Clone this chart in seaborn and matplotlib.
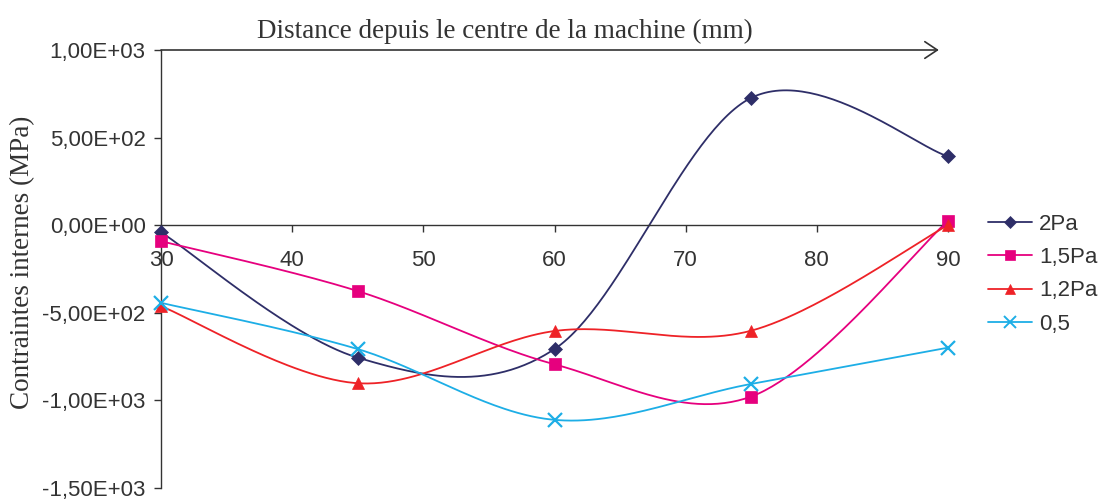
import numpy as np
import matplotlib
matplotlib.use("Agg")
import matplotlib.pyplot as plt
from matplotlib.lines import Line2D
import seaborn as sns

# Distance from the machine centre (mm)
distance = [30, 45, 60, 75, 90]

# Internal stresses (MPa) for each pressure
s_2pa = [-40, -756, -707, 727, 393]
s_15pa = [-91, -376, -794, -978, 25]
s_12pa = [-462, -902, -604, -602, 0]
s_05 = [-443, -707, -1111, -906, -699]

series_labels = ["2Pa", "1,5Pa", "1,2Pa", "0,5"]
series_values = [s_2pa, s_15pa, s_12pa, s_05]
series_colors = ["#2E2E68", "#E6007E", "#EE2227", "#1DAEE6"]
series_markers = ["D", "s", "^", "x"]
series_msize = [7.5, 8, 9, 10]

y_ticks = [1000, 500, 0, -500, -1000, -1500]
y_ticklabels = ["1,00E+03", "5,00E+02", "0,00E+00", "-5,00E+02", "-1,00E+03", "-1,50E+03"]
x_ticks = [30, 40, 50, 60, 70, 80, 90]


def smooth_curve(xs, ys, n=60):
    """Bezier smoothing through every point (spreadsheet-style smoothed line)."""
    p = np.column_stack([xs, ys]).astype(float)
    pts = np.vstack([p[0], p, p[-1]])
    t = np.linspace(0, 1, n)[:, None]
    out = []
    for i in range(1, len(pts) - 2):
        p0, p1, p2, p3 = pts[i - 1], pts[i], pts[i + 1], pts[i + 2]
        c1 = p1 + (p2 - p0) / 6.0
        c2 = p2 - (p3 - p1) / 6.0
        seg = ((1 - t) ** 3) * p1 + 3 * ((1 - t) ** 2) * t * c1 + 3 * (1 - t) * t ** 2 * c2 + t ** 3 * p2
        out.append(seg if i == 1 else seg[1:])
    c = np.vstack(out)
    return c[:, 0], c[:, 1]


sns.set_theme(style="white")
plt.rcParams["font.family"] = ["Liberation Sans", "DejaVu Sans"]

fig = plt.figure(figsize=(11.02, 5.0), dpi=100)
ax = fig.add_axes([161 / 1102, 1 - 488 / 500, (948 - 161) / 1102, (488 - 50) / 500])

ink = "#333333"
handles = []
for lab, vals, col, mk, ms in zip(series_labels, series_values, series_colors,
                                  series_markers, series_msize):
    cx, cy = smooth_curve(distance, vals)
    sns.lineplot(x=cx, y=cy, ax=ax, color=col, linewidth=1.3, sort=False,
                 estimator=None, legend=False)
    ax.plot(distance, vals, linestyle="none", marker=mk, markersize=ms,
            color=col, markeredgecolor=col, markeredgewidth=1.6 if mk == "x" else 0.5,
            clip_on=False, zorder=4)
    handles.append(Line2D([0], [0], color=col, linewidth=1.3, marker=mk,
                          markersize=ms * 0.85, markeredgecolor=col,
                          markeredgewidth=1.4 if mk == "x" else 0.5))

ax.set_xlim(30, 90)
ax.set_ylim(-1500, 1000)
ax.set_xticks(x_ticks)
ax.set_xticklabels([str(v) for v in x_ticks])
ax.set_yticks(y_ticks)
ax.set_yticklabels(y_ticklabels)

for side in ("top", "right"):
    ax.spines[side].set_visible(False)
ax.spines["bottom"].set_position(("data", 0))
for side in ("left", "bottom"):
    ax.spines[side].set_color(ink)
    ax.spines[side].set_linewidth(1.0)
ax.tick_params(axis="x", which="both", direction="out", length=5, width=1.0,
               color=ink, pad=13, labelsize=16, labelcolor=ink, bottom=True)
ax.tick_params(axis="y", which="both", direction="out", length=5, width=1.0,
               color=ink, pad=6, labelsize=16, labelcolor=ink, left=True)
ax.grid(False)

ax.set_ylabel("Contraintes internes (MPa)", family=["Liberation Serif", "DejaVu Serif"],
              fontsize=19.5, color=ink)
ax.yaxis.set_label_coords(-0.16, 0.515)

# Distance axis arrow along the top
ax.annotate("", xy=(89.3, 1000), xytext=(30, 1000), xycoords="data",
            arrowprops=dict(arrowstyle="->,head_length=0.45,head_width=0.3",
                            color=ink, linewidth=1.2, mutation_scale=20,
                            shrinkA=0, shrinkB=0),
            annotation_clip=False)
fig.text(505 / 1102, 1 - 31 / 500, "Distance depuis le centre de la machine (mm)",
         family=["Liberation Serif", "DejaVu Serif"], fontsize=19.5, color=ink,
         ha="center", va="center")

fig.legend(handles, series_labels, loc="upper left",
           bbox_to_anchor=(988 / 1102, 1 - 214 / 500), frameon=False,
           fontsize=16, handlelength=2.0, handletextpad=0.3, labelspacing=0.55,
           borderpad=0, borderaxespad=0, labelcolor=ink)

fig.savefig("out.png", dpi=100, facecolor="white")
